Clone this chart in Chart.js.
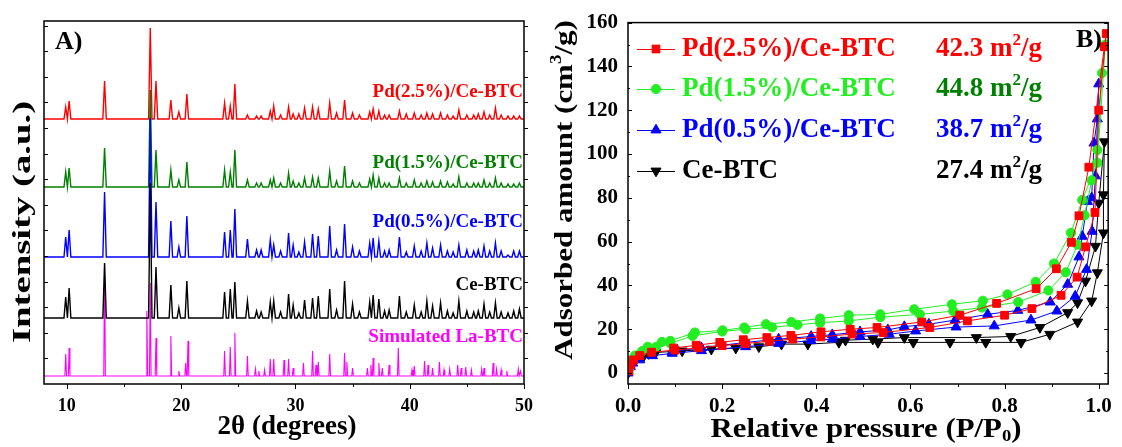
<!DOCTYPE html>
<html>
<head>
<meta charset="utf-8">
<script src="https://cdn.jsdelivr.net/npm/chart.js@4.4.1/dist/chart.umd.min.js"></script>
<style>
  body { margin: 0; background: #fff; }
  #wrap { position: relative; width: 1122px; height: 447px; }
  #xrd { position: absolute; left: 0; top: 0; }
  #bet { position: absolute; left: 545px; top: 0; }
</style>
</head>
<body>
<div id="wrap">
  <canvas id="xrd" width="545" height="447"></canvas>
  <canvas id="bet" width="577" height="447"></canvas>
</div>
<script>
const FONT = "'Liberation Serif', 'Times New Roman', serif";

// ---------------------------------------------------------------------------
// (A) XRD patterns, intensity in a.u., each pattern shifted up by its offset

const xrdNames   = ["Ce-BTC", "Pd(0.5%)/Ce-BTC", "Pd(1.5%)/Ce-BTC", "Pd(2.5%)/Ce-BTC", "Simulated La-BTC"];
const xrdColors  = ["#000000", "#0000ff", "#008000", "#ff0000", "#ff00ff"];
const xrdOffsets = [66, 127, 197, 265, 8];
const xrdTicks   = [10, 20, 30, 40, 50];

// peak positions (2 theta) of the measured samples, main peaks then small bumps
const expPeaks = [9.9, 10.2, 13.3, 17.3, 17.8, 19.1, 19.8, 20.5, 23.8, 24.3,
                  24.7, 25.8, 26.6, 27.0, 27.8, 28.1, 29.4, 29.8, 30.8, 31.5,
                  32.0, 33.0, 34.3, 35.0, 36.5, 36.8, 37.3, 38.2, 39.1, 40.4,
                  41.5, 42.0, 42.7, 44.3, 45.0, 46.5, 47.5, 48.6, 49.6,
                  28.7, 30.3, 33.6, 35.6, 37.8, 39.7, 41.0, 43.3, 43.8, 45.6,
                  46.0, 47.0, 48.0, 49.1];
const ceBTC = [21, 30, 55, 135, 51, 33, 10, 37, 26, 29,
               36, 17, 7, 6, 16, 17, 24, 13, 18, 20,
               22, 29, 37, 14, 16, 23, 19, 8, 22, 13,
               17, 12, 15, 17, 7, 14, 15, 5, 9,
               6, 5, 8, 6, 7, 6, 6, 7, 5, 6,
               7, 6, 6, 7];
const pd05 = [20, 27, 65, 139, 55, 36, 10, 41, 25, 27,
              48, 18, 7, 7, 17, 12, 24, 12, 15, 23,
              21, 31, 33, 10, 14, 19, 16, 7, 20, 11,
              14, 9, 12, 12, 7, 11, 14, 2, 6,
              6, 5, 7, 6, 6, 5, 6, 6, 5, 6,
              7, 6, 6, 6];
const pd15 = [15, 19, 39, 97, 37, 17, 7, 25, 17, 15,
              37, 7, 4, 4, 7, 9, 14, 6, 9, 10,
              9, 16, 21, 6, 8, 12, 9, 4, 9, 7,
              6, 5, 6, 10, 4, 7, 9, 3, 4,
              4, 4, 6, 4, 4, 4, 4, 5, 3, 4,
              4, 4, 4, 3];
const pd25 = [12, 18, 38, 91, 38, 19, 7, 25, 16, 13,
              35, 4, 3, 3, 8, 13, 12, 5, 11, 12,
              10, 16, 19, 6, 7, 10, 8, 4, 8, 6,
              6, 5, 6, 9, 4, 7, 11, 3, 3,
              4, 5, 6, 4, 4, 5, 4, 4, 3, 4,
              5, 4, 4, 3];

// simulated pattern
const simPeaks = [9.9, 10.2, 13.3, 17.0, 17.3, 17.8, 19.1, 19.8, 20.4, 20.6,
                  23.8, 24.3, 24.7, 25.8, 26.5, 26.8, 27.3, 27.8, 28.1, 29.0,
                  29.4, 29.8, 30.7, 31.5, 31.8, 32.0, 33.0, 34.3, 34.5, 35.0,
                  36.3, 36.6, 36.8, 37.3, 37.6, 38.2, 39.0, 40.2, 40.4, 41.3,
                  41.6, 42.0, 42.6, 43.0, 43.5, 44.2, 44.5, 44.9, 45.4, 46.3,
                  46.5, 47.3, 47.6, 48.0, 48.5, 49.5, 49.7];
const simLaBTC = [22, 28, 112, 65, 93, 38, 40, 5, 13, 35,
                  25, 29, 43, 20, 7, 5, 6, 17, 17, 16,
                  17, 8, 13, 25, 11, 14, 22, 23, 14, 8,
                  8, 11, 18, 13, 8, 11, 28, 6, 10, 15,
                  11, 8, 14, 6, 7, 11, 8, 9, 6, 7,
                  8, 13, 7, 6, 5, 7, 5];

function pattern(pos, heights, base, w) {
  const peaks = pos.map((p, i) => [p, heights[i]]).sort((a, b) => a[0] - b[0]);
  let pts = [{x: 8, y: base}];
  peaks.forEach(([p, h]) => {
    pts.push({x: p - w, y: base}, {x: p, y: base + h}, {x: p + w, y: base});
  });
  pts.push({x: 50, y: base});
  return pts;
}

const xrdData = [
  pattern(expPeaks, ceBTC, xrdOffsets[0], 0.15),
  pattern(expPeaks, pd05, xrdOffsets[1], 0.15),
  pattern(expPeaks, pd15, xrdOffsets[2], 0.15),
  pattern(expPeaks, pd25, xrdOffsets[3], 0.15),
  pattern(simPeaks, simLaBTC, xrdOffsets[4], 0.07)
];

// ---------------------------------------------------------------------------
// (B) N2 isotherms: [P/P0, cm3/g], adsorption then desorption branch

const betNames  = ["Pd(2.5%)/Ce-BTC", "Pd(1.5%)/Ce-BTC", "Pd(0.5%)/Ce-BTC", "Ce-BTC"];
const betColors = ["#ff0000", "#22ee22", "#0000ff", "#000000"];
const betAreas  = ["42.3", "44.8", "38.7", "27.4"];
const areaColors = ["#ff0000", "#008000", "#0000ff", "#000000"];
const betXTicks = [0, 0.2, 0.4, 0.6, 0.8, 1.0];
const betYTicks = [0, 20, 40, 60, 80, 100, 120, 140, 160];

const pd25Ads = [[0.002,1],[0.006,4],[0.012,6],[0.025,8],[0.05,9.5],[0.1,10.5],[0.15,11.5],[0.2,12.5],
  [0.25,13.5],[0.3,14.5],[0.35,15.5],[0.41,16.5],[0.476,17.8],[0.542,18.5],[0.641,20.8],[0.721,23.8],
  [0.8,26.4],[0.858,29.4],[0.92,35.5],[0.954,43.8],[0.972,57.6],[0.992,73.3],[1.0,120],[1.016,155]];
const pd25Des = [[1.012,149],[0.979,94],[0.958,71.8],[0.942,59.7],[0.91,47.6],[0.867,38.5],[0.783,31.8],
  [0.705,26.4],[0.624,23.3],[0.529,20.8],[0.472,20],[0.41,18.8],[0.346,17.2],[0.295,16.2],[0.245,15.2],
  [0.195,14],[0.145,12.7],[0.097,11.4]];

const pd15Ads = [[0.002,2],[0.008,6],[0.015,8],[0.03,10],[0.06,12],[0.09,13.5],[0.137,17],[0.2,19],
  [0.25,20],[0.306,20.9],[0.36,22],[0.408,23],[0.469,23.8],[0.536,25.5],[0.62,26.8],[0.691,28.3],
  [0.752,29.9],[0.829,32.4],[0.893,37.7],[0.93,46],[0.955,58.6],[0.97,72],[0.985,88],[0.997,101.8],
  [1.007,137],[1.014,150]];
const pd15Des = [[0.997,96],[0.965,79],[0.941,64],[0.905,50],[0.866,41.6],[0.806,35.9],[0.754,33],
  [0.688,31.4],[0.608,29.1],[0.536,26.8],[0.469,26.4],[0.408,24.9],[0.347,23.3],[0.293,22.3],
  [0.247,20.8],[0.201,19.5],[0.142,18.5],[0.09,14.7],[0.072,14.2],[0.042,12]];

const pd05Ads = [[0,0],[0.005,3],[0.01,4.5],[0.025,6],[0.052,7.9],[0.094,9],[0.156,10.2],[0.25,12],
  [0.32,13.5],[0.389,14.8],[0.434,15.5],[0.493,16.7],[0.555,17.7],[0.611,19.2],[0.697,21],[0.778,21.5],
  [0.856,24.2],[0.911,28.3],[0.95,35.1],[0.974,47.3],[0.986,64.7],[0.993,90],[1.0,132]];
const pd05Des = [[0.997,116],[0.99,105],[0.985,80],[0.976,78.3],[0.965,62.4],[0.958,53],[0.934,40.5],
  [0.897,32.4],[0.828,28.6],[0.764,26.8],[0.695,24.2],[0.639,22.3],[0.587,21.2],[0.552,19.7],
  [0.493,18.8],[0.434,17.5],[0.389,16.7],[0.32,15.5],[0.25,14],[0.156,11.5],[0.094,9.8]];

const ceAds = [[0,0],[0.005,4],[0.01,5],[0.02,7],[0.034,8],[0.044,8.9],[0.059,9.4],[0.115,10.1],
  [0.177,10.9],[0.229,11.4],[0.278,12],[0.326,13.2],[0.382,13.2],[0.448,14],[0.531,14],[0.606,14],
  [0.684,14],[0.76,14],[0.835,14],[0.896,17.7],[0.955,23.3],[0.985,32.9],[0.997,45.8],[1.01,64],
  [1.01,81.4],[1.012,105.6]];
const ceDes = [[1.0,77.6],[0.993,57.9],[0.972,42],[0.955,32.1],[0.934,27.6],[0.875,20.8],[0.813,16.7],
  [0.74,16.2],[0.587,16.2],[0.52,15.5],[0.462,15]];

const betData = [pd25Ads.concat(pd25Des), pd15Ads.concat(pd15Des), pd05Ads.concat(pd05Des), ceAds.concat(ceDes)];
const betStyles = [["rect", 5.5, 0], ["circle", 4.6, 0], ["triangle", 5.8, 0], ["triangle", 5.8, 180]];

// ---------------------------------------------------------------------------
// helpers: ticks round the frame, and texts with super/subscripts

function drawRich(ctx, t) {
  const small = Math.round(t.size * 0.62);
  let w = 0;
  t.parts.forEach(([s, k]) => {
    ctx.font = "bold " + (k === "n" ? t.size : small) + "px " + FONT;
    w += ctx.measureText(s).width;
  });
  ctx.save();
  ctx.translate(t.x, t.y);
  if (t.rot) ctx.rotate(t.rot * Math.PI / 180);
  ctx.scale(t.sx || 1, 1);
  ctx.fillStyle = t.color || "#000";
  ctx.textBaseline = "middle";
  ctx.textAlign = "left";
  let cx = t.align === "center" ? -w / 2 : t.align === "right" ? -w : 0;
  t.parts.forEach(([s, k]) => {
    ctx.font = "bold " + (k === "n" ? t.size : small) + "px " + FONT;
    const dy = k === "sup" ? -t.size * 0.32 : k === "sub" ? t.size * 0.22 : 0;
    ctx.fillText(s, cx, dy);
    cx += ctx.measureText(s).width;
  });
  ctx.restore();
}

const frameTicks = {
  id: "frameTicks",
  afterDraw(chart, args, o) {
    const {ctx, chartArea: a, scales} = chart;
    ctx.save();
    ctx.strokeStyle = "#000";
    ctx.lineWidth = 1;
    ctx.beginPath();
    (o.x || []).forEach(([v, len]) => {
      const px = Math.round(scales.x.getPixelForValue(v)) + 0.5;
      ctx.moveTo(px, a.bottom); ctx.lineTo(px, a.bottom + len);
    });
    (o.yl || []).forEach(([v, len]) => {
      const py = Math.round(scales.y.getPixelForValue(v)) + 0.5;
      ctx.moveTo(a.left, py); ctx.lineTo(a.left + len, py);
    });
    (o.yr || []).forEach(([v, len]) => {
      const py = Math.round(scales.y.getPixelForValue(v)) + 0.5;
      ctx.moveTo(a.right, py); ctx.lineTo(a.right + len, py);
    });
    ctx.stroke();
    ctx.lineWidth = 1.5;
    ctx.strokeRect(a.left, a.top, a.right - a.left, a.bottom - a.top);
    ctx.restore();
  }
};

const texts = {
  id: "texts",
  afterDraw(chart, args, o) {
    (o.items || []).forEach(t => drawRich(chart.ctx, t));
    if (o.legend) o.legend(chart);
  }
};

function fixedTicks(vals) {
  return scale => { scale.ticks = vals.map(v => ({value: v})); };
}

// ---------------------------------------------------------------------------
// chart A

let xrdYTicks = [];
for (let v = 25.6; v < 363; v += 25.6) xrdYTicks.push([v, 4]);

new Chart("xrd", {
  type: "line",
  data: {
    datasets: xrdData.map((d, i) => ({
      label: xrdNames[i],
      data: d,
      borderColor: xrdColors[i],
      borderWidth: i === 4 ? 1.1 : 1.4,
      pointRadius: 0,
      tension: 0,
      fill: false
    }))
  },
  options: {
    responsive: false,
    animation: false,
    layout: {padding: {top: 21, right: 11, left: 0, bottom: 0}},
    plugins: {
      legend: {display: false},
      tooltip: {enabled: false},
      frameTicks: {
        x: xrdTicks.map(v => [v, 5]).concat([15, 25, 35, 45].map(v => [v, 3])),
        yl: xrdYTicks,
        yr: xrdYTicks
      },
      texts: {
        items: [
          {parts: [["A)", "n"]], x: 55, y: 42, size: 26, align: "left"},
          {parts: [["Pd(2.5%)/Ce-BTC", "n"]], x: 523, y: 92, size: 19, align: "right", color: xrdColors[3]},
          {parts: [["Pd(1.5%)/Ce-BTC", "n"]], x: 523, y: 163, size: 19, align: "right", color: xrdColors[2]},
          {parts: [["Pd(0.5%)/Ce-BTC", "n"]], x: 523, y: 222, size: 19, align: "right", color: xrdColors[1]},
          {parts: [["Ce-BTC", "n"]], x: 523, y: 285, size: 19, align: "right", color: xrdColors[0]},
          {parts: [["Simulated La-BTC", "n"]], x: 523, y: 337, size: 19, align: "right", color: xrdColors[4]},
          {parts: [["2θ (degrees)", "n"]], x: 287, y: 427, size: 27, align: "center"},
          {parts: [["Intensity (a.u.)", "n"]], x: 24, y: 222, size: 25, align: "center", rot: -90, sx: 1.55}
        ]
      }
    },
    scales: {
      x: {
        type: "linear", min: 8, max: 50,
        grid: {display: false, drawTicks: false},
        border: {display: false},
        afterBuildTicks: fixedTicks(xrdTicks),
        afterFit: s => { s.height = 63; },
        ticks: {padding: 12, color: "#000", font: {family: FONT, size: 18, weight: "bold"}}
      },
      y: {
        min: 0, max: 363,
        grid: {display: false, drawTicks: false},
        border: {display: false},
        ticks: {display: false},
        afterFit: s => { s.width = 44; }
      }
    }
  },
  plugins: [frameTicks, texts]
});

// ---------------------------------------------------------------------------
// chart B

function drawBetLegend(chart) {
  const ctx = chart.ctx;
  const rows = [49, 89, 130, 171];
  betNames.forEach((name, i) => {
    const y = rows[i];
    ctx.save();
    ctx.strokeStyle = betColors[i];
    ctx.fillStyle = betColors[i];
    ctx.lineWidth = 1;
    ctx.beginPath();
    ctx.moveTo(92, y + 0.5); ctx.lineTo(130, y + 0.5);
    ctx.stroke();
    Chart.helpers.drawPoint(ctx, {
      pointStyle: betStyles[i][0], radius: betStyles[i][1], rotation: betStyles[i][2], borderWidth: 1
    }, 111, y);
    ctx.restore();
    drawRich(ctx, {parts: [[name, "n"]], x: 137, y: y, size: 27, align: "left", color: betColors[i]});
    drawRich(ctx, {parts: [[betAreas[i] + " m", "n"], ["2", "sup"], ["/g", "n"]], x: 497, y: y, size: 27,
      align: "right", color: areaColors[i]});
  });
}

new Chart("bet", {
  type: "line",
  data: {
    datasets: betData.map((d, i) => ({
      label: betNames[i],
      data: d.map(([x, y]) => ({x: x, y: y})),
      borderColor: betColors[i],
      backgroundColor: betColors[i],
      borderWidth: 1,
      pointStyle: betStyles[i][0],
      pointRadius: betStyles[i][1],
      pointRotation: betStyles[i][2],
      pointBorderWidth: 1,
      tension: 0,
      fill: false
    }))
  },
  options: {
    responsive: false,
    animation: false,
    layout: {padding: {top: 21, right: 4, left: 0, bottom: 0}},
    plugins: {
      legend: {display: false},
      tooltip: {enabled: false},
      frameTicks: {
        x: betXTicks.map(v => [v, 5]).concat([0.1, 0.3, 0.5, 0.7, 0.9].map(v => [v, 3])),
        yl: betYTicks.map(v => [v, 4]).concat([10, 30, 50, 70, 90, 110, 130, 150].map(v => [v, 2])),
        yr: betYTicks.map(v => [v, -4]).concat([10, 30, 50, 70, 90, 110, 130, 150].map(v => [v, -2]))
      },
      texts: {
        items: [
          {parts: [["B)", "n"]], x: 557, y: 40, size: 26, align: "right"},
          {parts: [["Relative pressure (P/P", "n"], ["0", "sub"], [")", "n"]], x: 321, y: 430, size: 28,
            align: "center", sx: 1.1},
          {parts: [["Adsorbed amount (cm", "n"], ["3", "sup"], ["/g)", "n"]], x: 20, y: 190, size: 26,
            align: "center", rot: -90, sx: 1.19}
        ],
        legend: drawBetLegend
      }
    },
    scales: {
      x: {
        type: "linear", min: 0, max: 1.02,
        grid: {display: false, drawTicks: false},
        border: {display: false},
        afterBuildTicks: fixedTicks(betXTicks),
        afterFit: s => { s.height = 63; },
        ticks: {padding: 10, color: "#000", font: {family: FONT, size: 21, weight: "bold"},
          callback: v => v.toFixed(1)}
      },
      y: {
        type: "linear", min: -5, max: 160,
        grid: {display: false, drawTicks: false},
        border: {display: false},
        afterBuildTicks: fixedTicks(betYTicks),
        afterFit: s => { s.width = 83; },
        ticks: {padding: 10, color: "#000", font: {family: FONT, size: 21, weight: "bold"}}
      }
    }
  },
  plugins: [frameTicks, texts]
});
</script>
</body>
</html>
